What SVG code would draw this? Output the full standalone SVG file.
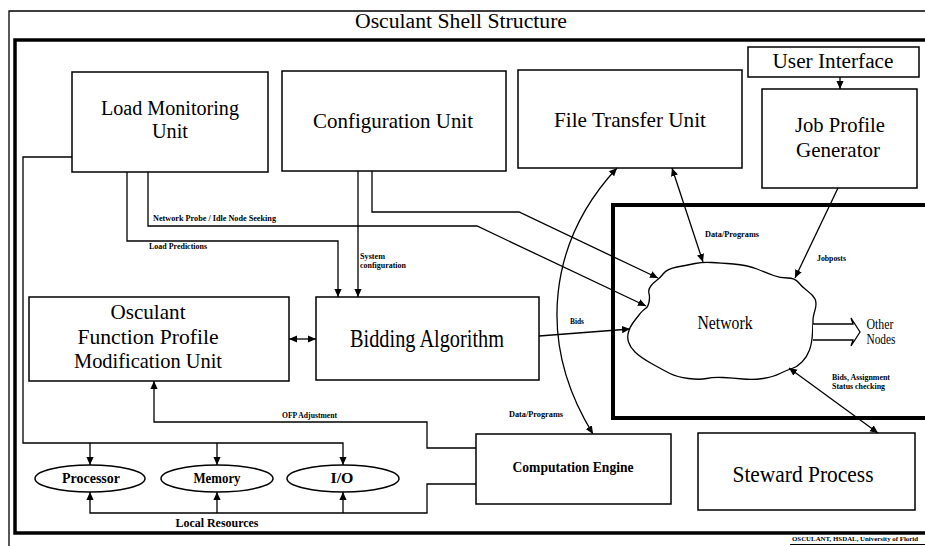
<svg xmlns="http://www.w3.org/2000/svg" width="925" height="546" viewBox="0 0 925 546">
<style>
  .box{fill:#fff;stroke:#000;stroke-width:1.5}
  .frame{fill:none;stroke:#000}
  .c{fill:none;stroke:#000;stroke-width:1.3}
  .t{font-family:"Liberation Serif","Times New Roman",serif;text-anchor:middle;fill:#000}
  .b{font-family:"Liberation Serif","Times New Roman",serif;font-weight:bold;fill:#000}
  .s{font-family:"Liberation Serif","Times New Roman",serif;font-weight:bold;font-size:8px;fill:#000}
</style>
<defs>
  <marker id="ah" viewBox="0 0 10 10" refX="10" refY="5" markerWidth="8" markerHeight="8" markerUnits="userSpaceOnUse" orient="auto-start-reverse">
    <path d="M0,0.5 L10,5 L0,9.5 z" fill="#000"/>
  </marker>
</defs>
<rect width="925" height="546" fill="#fff"/>

<g id="frame">
  <path class="frame" stroke-width="1.3" d="M925,11 H9 V546"/>
  <path class="frame" stroke-width="3.5" d="M925,40 H15 V533 H925"/>
  <text class="t" x="461" y="28" font-size="20" textLength="212" lengthAdjust="spacingAndGlyphs">Osculant Shell Structure</text>
  <text class="s" x="792" y="541" style="font-size:6.6px" textLength="126" lengthAdjust="spacingAndGlyphs">OSCULANT, HSDAL, University of Florid</text>
  <path class="frame" stroke-width="1" d="M790,544.5 H925"/>
</g>

<g id="network-box">
  <path class="frame" stroke-width="4" d="M925,205 H613 V418 H925"/>
</g>

<g id="load-monitoring-unit">
  <rect class="box" x="72" y="72" width="196" height="100"/>
  <text class="t" x="170" y="115" font-size="20" textLength="138" lengthAdjust="spacingAndGlyphs">Load Monitoring</text>
  <text class="t" x="170" y="138" font-size="20" textLength="36" lengthAdjust="spacingAndGlyphs">Unit</text>
</g>
<g id="configuration-unit">
  <rect class="box" x="282" y="71" width="224" height="100"/>
  <text class="t" x="393" y="128" font-size="22" textLength="160" lengthAdjust="spacingAndGlyphs">Configuration Unit</text>
</g>
<g id="file-transfer-unit">
  <rect class="box" x="518" y="70" width="224" height="98"/>
  <text class="t" x="630" y="127" font-size="22" textLength="152" lengthAdjust="spacingAndGlyphs">File Transfer Unit</text>
</g>
<g id="user-interface">
  <rect class="box" x="748" y="47" width="171" height="30"/>
  <text class="t" x="833" y="68" font-size="20" textLength="121" lengthAdjust="spacingAndGlyphs">User Interface</text>
</g>
<g id="job-profile-generator">
  <rect class="box" x="762" y="89" width="155" height="99"/>
  <text class="t" x="840" y="132" font-size="21" textLength="90" lengthAdjust="spacingAndGlyphs">Job Profile</text>
  <text class="t" x="838" y="157" font-size="21" textLength="84" lengthAdjust="spacingAndGlyphs">Generator</text>
</g>
<g id="ofpm-unit">
  <rect class="box" x="29" y="297" width="260" height="84"/>
  <text class="t" x="148" y="319" font-size="21" textLength="75" lengthAdjust="spacingAndGlyphs">Osculant</text>
  <text class="t" x="148" y="344" font-size="21" textLength="141" lengthAdjust="spacingAndGlyphs">Function Profile</text>
  <text class="t" x="148" y="368" font-size="21" textLength="148" lengthAdjust="spacingAndGlyphs">Modification Unit</text>
</g>
<g id="bidding-algorithm">
  <rect class="box" x="316" y="297" width="223" height="83"/>
  <text class="t" x="427" y="347" font-size="25" textLength="154" lengthAdjust="spacingAndGlyphs">Bidding Algorithm</text>
</g>
<g id="network">
  <path fill="#fff" stroke="#000" stroke-width="1.3" d="M663.5,273.5 Q667,269 677,267 Q687,265 695,263.5 Q703,262 711.5,262.5 Q720,263 733.5,264 Q747,265 757,269 Q767,273 773.5,275.5 Q780,278 787.5,278 Q795,278 798.5,282.5 Q802,287 807.5,291 Q813,295 815,299 Q817,303 815,310 Q813,317 813,320 Q813,323 812.5,333 Q812,343 809.5,350 Q807,357 802,362 Q797,367 792,368.5 Q787,370 780,373.5 Q773,377 763,378.5 Q753,380 743,379 Q733,378 723,377.5 Q713,377 706.5,378.5 Q700,380 688.5,378.5 Q677,377 670,373.5 Q663,370 651.5,363.5 Q640,357 635,352 Q630,347 628.5,342 Q627,337 628.5,332 Q630,327 632.5,323.5 Q635,320 639,315 Q643,310 645.5,308.5 Q648,307 649,302 Q650,297 649,293.5 Q648,290 650.5,286.5 Q653,283 656.5,280.5 Q660,278 663.5,273.5 Z"/>
  <text class="t" x="725" y="329" font-size="18" textLength="55" lengthAdjust="spacingAndGlyphs">Network</text>
</g>
<g id="other-nodes">
  <path fill="#fff" stroke="#000" stroke-width="1.3" d="M813,324 H853 L851,318 L860,332 L851,346 L853,340 H813"/>
  <text class="t" x="880" y="329" font-size="15" textLength="27" lengthAdjust="spacingAndGlyphs">Other</text>
  <text class="t" x="881" y="344" font-size="15" textLength="29" lengthAdjust="spacingAndGlyphs">Nodes</text>
</g>
<g id="computation-engine">
  <rect class="box" x="476" y="434" width="195" height="70"/>
  <text class="b" x="573" y="472" font-size="14" text-anchor="middle" textLength="121" lengthAdjust="spacingAndGlyphs">Computation Engine</text>
</g>
<g id="steward-process">
  <rect class="box" x="698" y="433" width="217" height="77"/>
  <text class="t" x="803" y="482" font-size="23" textLength="141" lengthAdjust="spacingAndGlyphs">Steward Process</text>
</g>
<g id="processor">
  <ellipse class="box" cx="90" cy="478.5" rx="55" ry="13.5"/>
  <text class="b" x="91" y="483" font-size="14" text-anchor="middle" textLength="58" lengthAdjust="spacingAndGlyphs">Processor</text>
</g>
<g id="memory">
  <ellipse class="box" cx="217" cy="478.5" rx="56" ry="13.5"/>
  <text class="b" x="217" y="483" font-size="14" text-anchor="middle" textLength="47" lengthAdjust="spacingAndGlyphs">Memory</text>
</g>
<g id="io">
  <ellipse class="box" cx="343" cy="478.5" rx="56" ry="13.5"/>
  <text class="b" x="342" y="483" font-size="14" text-anchor="middle" textLength="23" lengthAdjust="spacingAndGlyphs">I/O</text>
</g>

<g id="connectors">
  <path class="c" d="M72,157 H23 V443 H343 V465" marker-end="url(#ah)"/>
  <path class="c" d="M90,443 V465" marker-end="url(#ah)"/>
  <path class="c" d="M217,443 V465" marker-end="url(#ah)"/>
  <path class="c" d="M476,484 H427 V513 H90 V492" marker-end="url(#ah)"/>
  <path class="c" d="M217,513 V492" marker-end="url(#ah)"/>
  <path class="c" d="M343,513 V492" marker-end="url(#ah)"/>
  <path class="c" d="M476,448 H427 V422 H154 V381" marker-end="url(#ah)"/>
  <path class="c" d="M127,172 V241 H338 V297" marker-end="url(#ah)"/>
  <path class="c" d="M358,171 V297" marker-end="url(#ah)"/>
  <path class="c" d="M148,172 V226 H477 L646,306" marker-end="url(#ah)"/>
  <path class="c" d="M372,171 V212 H519 L658,278" marker-end="url(#ah)"/>
  <path class="c" d="M289,339 H316" marker-start="url(#ah)" marker-end="url(#ah)"/>
  <path class="c" d="M539,336 L630,329" marker-end="url(#ah)"/>
  <path class="c" d="M617,168 C550,240 535,340 593,434" marker-start="url(#ah)" marker-end="url(#ah)"/>
  <path class="c" d="M672,168 L703,262" marker-start="url(#ah)" marker-end="url(#ah)"/>
  <path class="c" d="M838,188 L795,278" marker-end="url(#ah)"/>
  <path class="c" d="M789,368 L878,433" marker-start="url(#ah)" marker-end="url(#ah)"/>
  <path class="c" d="M840,77 V89" marker-end="url(#ah)"/>
  <text class="s" x="153" y="221" textLength="123" lengthAdjust="spacingAndGlyphs">Network Probe / Idle Node Seeking</text>
  <text class="s" x="149" y="249" textLength="58" lengthAdjust="spacingAndGlyphs">Load Predictions</text>
  <text class="s" x="360" y="259" textLength="25" lengthAdjust="spacingAndGlyphs">System</text>
  <text class="s" x="360" y="268" textLength="46" lengthAdjust="spacingAndGlyphs">configuration</text>
  <text class="s" x="705" y="237" textLength="54" lengthAdjust="spacingAndGlyphs">Data/Programs</text>
  <text class="s" x="817" y="261" textLength="29" lengthAdjust="spacingAndGlyphs">Jobposts</text>
  <text class="s" x="570" y="324" textLength="14" lengthAdjust="spacingAndGlyphs">Bids</text>
  <text class="s" x="282" y="418" textLength="55" lengthAdjust="spacingAndGlyphs">OFP Adjustment</text>
  <text class="s" x="509" y="417" textLength="54" lengthAdjust="spacingAndGlyphs">Data/Programs</text>
  <text class="s" x="832" y="380" textLength="58" lengthAdjust="spacingAndGlyphs">Bids, Assignment</text>
  <text class="s" x="832" y="389" textLength="53" lengthAdjust="spacingAndGlyphs">Status checking</text>
  <text class="b" x="217" y="527" font-size="12" text-anchor="middle" textLength="83" lengthAdjust="spacingAndGlyphs">Local Resources</text>
</g>
</svg>
